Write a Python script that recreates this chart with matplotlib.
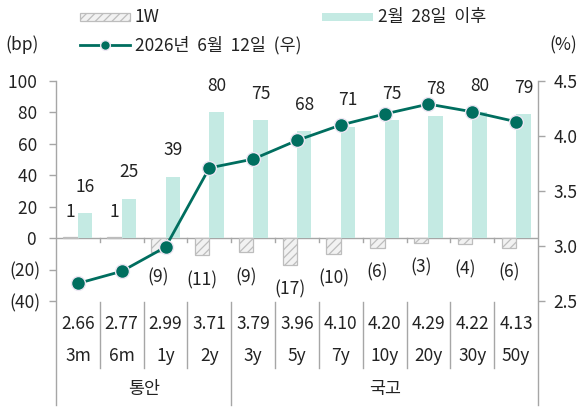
import matplotlib
matplotlib.use("Agg")
import matplotlib.pyplot as plt
from matplotlib.patches import Rectangle
from matplotlib.lines import Line2D
import numpy as np

plt.rcParams['font.family'] = ['Noto Sans CJK KR', 'DejaVu Sans']
plt.rcParams['hatch.linewidth'] = 0.9

tenors = ['3m', '6m', '1y', '2y', '3y', '5y', '7y', '10y', '20y', '30y', '50y']
yields = [2.66, 2.77, 2.99, 3.71, 3.79, 3.96, 4.10, 4.20, 4.29, 4.22, 4.13]
chg_1w = [1, 1, -9, -11, -9, -17, -10, -6, -3, -4, -6]
chg_since = [16, 25, 39, 80, 75, 68, 71, 75, 78, 80, 79]
groups = ['통안', '국고']
group_sizes = [4, 7]
left_ticks = [-40, -20, 0, 20, 40, 60, 80, 100]
right_ticks = [2.5, 3.0, 3.5, 4.0, 4.5]

TEAL = '#C4EAE3'
LINE = '#006E5F'
GRAY = '#A6A6A6'
HFACE = '#F2F2F2'
HEDGE = '#BDBDBD'
TXT = '#222222'
FS = 12.5

W, H = 581, 408
fig = plt.figure(figsize=(W / 100, H / 100), dpi=100)
L, R, T, B = 56, 538, 81, 301
ax = fig.add_axes([L / W, 1 - B / H, (R - L) / W, (B - T) / H])
ax2 = ax.twinx()

x = np.arange(len(tenors))
bw = 0.33
ax.bar(x - bw / 2, chg_1w, width=bw, facecolor=HFACE, edgecolor=HEDGE,
       hatch='////', linewidth=0.9, zorder=2)
ax.bar(x + bw / 2, chg_since, width=bw, color=TEAL, zorder=2)

for xi, v in zip(x, chg_1w):
    lab = f'({abs(v)})' if v < 0 else f'{v}'
    off = -18 if v < 0 else 18
    ax.annotate(lab, (xi - bw / 2, v), xytext=(0, off), textcoords='offset points',
                ha='center', va='center', fontsize=FS, color=TXT)
for xi, v in zip(x, chg_since):
    ax.annotate(f'{v}', (xi + bw / 2, v), xytext=(0, 19), textcoords='offset points',
                ha='center', va='center', fontsize=FS, color=TXT)

ax.axhline(0, color=GRAY, lw=1, zorder=1)
ax.set_xlim(-0.5, len(tenors) - 0.5)
ax.set_ylim(-40, 100)
ax.set_yticks(left_ticks)
ax.set_yticklabels([f'({abs(t)})' if t < 0 else f'{t} ' for t in left_ticks])
ax.set_xticks([])

# category boundary ticks on the zero line
for k in range(1, len(tenors)):
    ax.plot([k - 0.5] * 2, [0, -2.6], color=GRAY, lw=1, zorder=1)

ax2.plot(x, yields, color=LINE, lw=2, marker='o', ms=10, mfc=LINE,
         mec='#EDE6F3', mew=1, zorder=5)
ax2.set_ylim(2.5, 4.5)
ax2.set_yticks(right_ticks)
ax2.set_yticklabels([f'{t:.1f}' for t in right_ticks])

for a in (ax, ax2):
    for s in a.spines.values():
        s.set_visible(False)
    a.tick_params(axis='y', length=5, width=1, color=GRAY, labelsize=FS,
                  labelcolor=TXT, pad=6)
ax.set_zorder(ax2.get_zorder() - 1)
ax.patch.set_visible(False)
ax2.patch.set_visible(False)

# spines extended down through table
bot = (B - 405) / (B - T)
ax.plot([-0.5, -0.5], [1, bot], transform=ax.get_xaxis_transform(), color=GRAY,
        lw=1, clip_on=False)
ax.plot([len(tenors) - 0.5] * 2, [1, bot], transform=ax.get_xaxis_transform(),
        color=GRAY, lw=1, clip_on=False)

# table separators
top_sep = -0.005
short_bot = (B - 368) / (B - T)
bounds = np.cumsum(group_sizes)[:-1]
for k in range(1, len(tenors)):
    yb = bot if k in bounds else short_bot
    ax.plot([k - 0.5] * 2, [top_sep, yb], transform=ax.get_xaxis_transform(),
            color=GRAY, lw=1, clip_on=False)

y_val = (B - 324) / (B - T)
y_ten = (B - 356) / (B - T)
y_grp = (B - 389) / (B - T)
for xi, yv, t in zip(x, yields, tenors):
    ax.text(xi, y_val, f'{yv:.2f}', transform=ax.get_xaxis_transform(),
            ha='center', va='center', fontsize=FS, color=TXT)
    ax.text(xi, y_ten, t, transform=ax.get_xaxis_transform(),
            ha='center', va='center', fontsize=FS, color=TXT)
start = 0
for g, n in zip(groups, group_sizes):
    ax.text(start + (n - 1) / 2, y_grp, g, transform=ax.get_xaxis_transform(),
            ha='center', va='center', fontsize=FS, color=TXT)
    start += n

# unit labels
fig.text(22 / W, 1 - 45 / H, '(bp)', ha='center', va='center', fontsize=FS, color=TXT)
fig.text(563 / W, 1 - 45 / H, '(%)', ha='center', va='center', fontsize=FS, color=TXT)

# legend (manual)
def fx(p):
    return p / W

def fy(p):
    return 1 - p / H

fig.add_artist(Rectangle((fx(80), fy(21)), 50 / W, 8 / H, transform=fig.transFigure,
                         facecolor=HFACE, edgecolor=HEDGE, hatch='////', lw=0.9))
fig.text(fx(135), fy(17), '1W', ha='left', va='center', fontsize=FS, color=TXT)
fig.add_artist(Rectangle((fx(322), fy(21)), 51 / W, 8 / H, transform=fig.transFigure,
                         facecolor=TEAL, edgecolor='none'))
fig.text(fx(378), fy(17), '2월  28일  이후', ha='left', va='center', fontsize=FS, color=TXT)
fig.add_artist(Line2D([fx(80), fx(130)], [fy(45), fy(45)], transform=fig.transFigure,
                      color=LINE, lw=2))
fig.add_artist(Line2D([fx(105)], [fy(45)], transform=fig.transFigure, marker='o', ms=7,
                      mfc=LINE, mec='#EDE6F3', mew=1, lw=0))
fig.text(fx(135), fy(45), '2026년  6월  12일  (우)', ha='left', va='center', fontsize=FS,
         color=TXT)

fig.savefig('out.png', dpi=100)
